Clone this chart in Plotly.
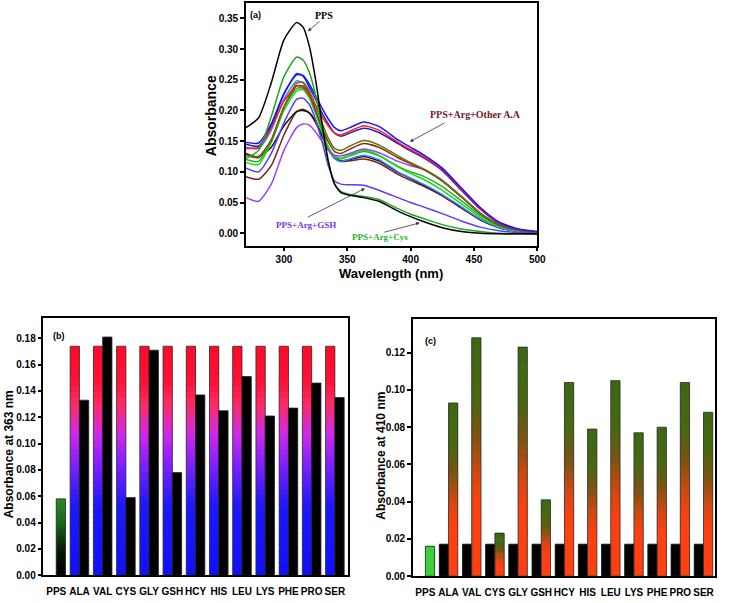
import plotly.graph_objects as go

# ---------------- panel (a): UV-vis spectra ----------------
wl = [270, 280, 290, 300, 310, 315, 320, 325, 330, 335, 340, 345, 352, 363,
      375, 390, 400, 410, 425, 440, 455, 470, 485, 500]

spec_pps = [.172, .188, .245, .315, .343, .336, .305, .250, .180, .118, .080, .066,
            .062, .058, .052, .036, .027, .019, .009, .003, .000, -.001, -.001, -.001]
spec_cys = [.122, .135, .190, .255, .287, .282, .262, .225, .170, .115, .080, .068,
            .063, .060, .055, .040, .031, .024, .014, .007, .003, .000, -.001, -.002]
spec_gsh = [.106, .100, .130, .180, .218, .220, .210, .185, .150, .110, .085, .080,
            .079, .078, .070, .058, .050, .043, .032, .020, .010, .004, .001, .000]
spec_arg = [.138, .140, .172, .215, .240, .238, .225, .208, .190, .175, .163, .160,
            .166, .175, .168, .148, .136, .125, .104, .072, .040, .017, .006, .002]
spec_val = [.148, .147, .178, .228, .258, .257, .243, .224, .204, .186, .172, .167,
            .172, .181, .174, .152, .140, .128, .106, .074, .042, .018, .007, .003]
spec_gly = [.145, .142, .175, .226, .260, .256, .238, .218, .196, .178, .163, .158,
            .163, .171, .164, .146, .134, .123, .102, .070, .039, .016, .006, .002]
spec_leu = [.127, .123, .150, .205, .244, .246, .232, .208, .180, .155, .138, .135,
            .142, .151, .144, .126, .115, .105, .086, .060, .033, .014, .005, .001]
spec_pro = [.128, .125, .152, .206, .240, .240, .226, .200, .172, .149, .133, .130,
            .137, .146, .140, .123, .113, .104, .085, .059, .032, .013, .005, .001]
spec_hcy = [.058, .052, .080, .135, .172, .178, .176, .165, .150, .135, .127, .126,
            .130, .137, .131, .117, .110, .104, .086, .060, .033, .014, .005, .001]
spec_ser = [.115, .112, .148, .200, .232, .234, .220, .195, .165, .140, .126, .122,
            .128, .135, .127, .108, .097, .088, .070, .048, .026, .011, .004, .000]
spec_ala = [.120, .117, .152, .205, .236, .236, .222, .197, .166, .140, .125, .121,
            .126, .133, .126, .109, .100, .093, .076, .053, .029, .012, .004, .000]
spec_phe = [.140, .138, .168, .218, .248, .245, .228, .200, .168, .140, .122, .117,
            .121, .127, .120, .100, .090, .080, .063, .043, .023, .009, .003, .000]
spec_his = [.130, .124, .140, .175, .198, .200, .196, .182, .160, .138, .123, .118,
            .120, .125, .118, .099, .089, .079, .062, .042, .022, .009, .003, .000]
spec_lys = [.092, .088, .110, .160, .198, .202, .196, .180, .158, .137, .122, .117,
            .118, .121, .114, .096, .086, .077, .061, .041, .022, .009, .003, .000]

# (curve, colour) drawing order
spectra = [
    (spec_lys, "#7a1e1e"), (spec_his, "#151515"), (spec_phe, "#3a80ff"),
    (spec_ala, "#28b028"), (spec_ser, "#10e010"), (spec_hcy, "#9a40ff"),
    (spec_pro, "#7a3a12"), (spec_leu, "#6e6e10"), (spec_gly, "#2222cc"),
    (spec_arg, "#ff1a1a"), (spec_val, "#1414ff"), (spec_gsh, "#5a3cff"),
    (spec_cys, "#1fa81f"), (spec_pps, "#000000"),
]

# ---------------- panels (b) and (c): bars ----------------
cats = ["PPS", "ALA", "VAL", "CYS", "GLY", "GSH", "HCY", "HIS", "LEU", "LYS", "PHE", "PRO", "SER"]

b_arg = [None, .174, .174, .174, .174, .174, .174, .174, .174, .174, .174, .174, .174]
b_aa = [.058, .133, .181, .059, .171, .078, .137, .125, .151, .121, .127, .146, .135]

c_arg = [None, .017, .017, .017, .017, .017, .017, .017, .017, .017, .017, .017, .017]
c_aa = [.016, .093, .128, .023, .123, .041, .104, .079, .105, .077, .080, .104, .088]

# gradient definitions (fraction of bar height, colour)
grad_redblue = [(0, "#1010ff"), (0.3, "#1a18ff"), (0.5, "#8a20ff"), (0.62, "#d02ae8"),
                (0.75, "#ff2a60"), (0.85, "#ff1034"), (1, "#ff0a28")]
grad_pps_b = [(0, "#000000"), (0.3, "#051505"), (0.7, "#1a6a1a"), (1, "#2a8a2a")]
grad_black = [(0, "#000000"), (1, "#000000")]
grad_orgreen = [(0, "#ff4010"), (0.3, "#ff4010"), (0.45, "#c84a10"), (0.6, "#7a5410"),
                (0.75, "#4a6612"), (1, "#3a6a12")]
grad_pps_c = [(0, "#3ad03a"), (1, "#3ad03a")]

N_SEG = 40
W, H = 730, 603


def hex2rgb(h):
    h = h.lstrip("#")
    return [int(h[i:i + 2], 16) for i in (0, 2, 4)]


def grad(stops, t):
    for (t0, c0), (t1, c1) in zip(stops[:-1], stops[1:]):
        if t <= t1:
            f = 0 if t1 == t0 else (t - t0) / (t1 - t0)
            a, b = hex2rgb(c0), hex2rgb(c1)
            return "rgb(%d,%d,%d)" % tuple(round(a[i] + (b[i] - a[i]) * f) for i in range(3))
    return stops[-1][1]


def add_bars(fig, values, stops, offset, xa, ya):
    # stack thin slices to fake Origin's vertical gradient fill
    for k in range(N_SEG):
        ys, bases = [], []
        for v in values:
            if v is None:
                ys.append(None)
                bases.append(0)
            else:
                lo = v * k / N_SEG
                hi = v * (k + 1) / N_SEG
                if k < N_SEG - 1:
                    hi += v * 0.4 / N_SEG
                ys.append(hi - lo)
                bases.append(lo)
        cols = [grad(s, (k + 0.5) / N_SEG) for s in stops]
        fig.add_trace(go.Bar(x=cats, y=ys, base=bases, width=0.4, offset=offset,
                             marker=dict(color=cols, line=dict(width=0)),
                             xaxis=xa, yaxis=ya, showlegend=False, hoverinfo="skip"))
    fig.add_trace(go.Bar(x=cats, y=values, width=0.4, offset=offset,
                         marker=dict(color="rgba(0,0,0,0)", line=dict(color="#2a2a2a", width=0.8)),
                         xaxis=xa, yaxis=ya, showlegend=False, hoverinfo="skip"))


fig = go.Figure()

for curve, col in spectra:
    fig.add_trace(go.Scatter(x=wl, y=curve, mode="lines",
                             line=dict(color=col, width=1.5, shape="spline", smoothing=0.6),
                             xaxis="x", yaxis="y", showlegend=False))

add_bars(fig, b_arg, [grad_redblue] * len(cats), -0.4, "x2", "y2")
add_bars(fig, b_aa, [grad_pps_b] + [grad_black] * (len(cats) - 1), 0.0, "x2", "y2")
add_bars(fig, c_arg, [grad_black] * len(cats), -0.4, "x3", "y3")
add_bars(fig, c_aa, [grad_pps_c] + [grad_orgreen] * (len(cats) - 1), 0.0, "x3", "y3")

tickfont = dict(family="Liberation Sans", size=10, color="black", weight="bold")
axis_common = dict(showline=True, linecolor="black", linewidth=1.5, mirror=True,
                   showgrid=False, zeroline=False, tickfont=tickfont,
                   ticks="outside", ticklen=4, tickwidth=1.5, tickcolor="black")
# category axes: no visible ticks, labels pushed a little lower
cat_axis = {**axis_common, "ticklen": 6, "tickcolor": "rgba(0,0,0,0)", "tickangle": 0}


def xd(a, b):
    return [a / W, b / W]


def yd(top, bottom):
    return [1 - bottom / H, 1 - top / H]


fig.update_layout(
    width=W, height=H, margin=dict(l=0, r=0, t=0, b=0),
    paper_bgcolor="white", plot_bgcolor="white", barmode="overlay",
    xaxis=dict(domain=xd(249, 544), range=[270, 500], tickvals=[300, 350, 400, 450, 500],
               anchor="y", **axis_common),
    yaxis=dict(domain=yd(3, 248), range=[-0.02, 0.375], tick0=0, dtick=0.05,
               tickformat=".2f", anchor="x", **axis_common),
    xaxis2=dict(domain=xd(44, 352), type="category", range=[-0.55, 12.55], anchor="y2",
                **cat_axis),
    yaxis2=dict(domain=yd(321, 581), range=[0, 0.1956], tick0=0, dtick=0.02,
                tickformat=".2f", anchor="x2", **axis_common),
    xaxis3=dict(domain=xd(418, 724), type="category", range=[-0.54, 12.5], anchor="y3",
                **cat_axis),
    yaxis3=dict(domain=yd(322, 582), range=[0, 0.1382], tick0=0, dtick=0.02,
                tickformat=".2f", anchor="x3", **axis_common),
)

sans_b = dict(family="Liberation Sans", color="black", weight="bold")


def paper_text(px, py, text, size, angle=0):
    fig.add_annotation(x=px / W, y=1 - py / H, xref="paper", yref="paper", text=text,
                       xanchor="center", yanchor="middle", showarrow=False,
                       textangle=angle, font=dict(size=size, **sans_b))


paper_text(213, 117, "Absorbance", 14, -90)
paper_text(396, 276, "Wavelength (nm)", 13)
paper_text(10, 459, "Absorbance at 363 nm", 12, -90)
paper_text(386, 460, "Absorbance at 410 nm", 12, -90)
paper_text(259, 15, "(a)", 9)
paper_text(60, 339, "(b)", 9)
paper_text(436, 344, "(c)", 9)

# spectrum labels with arrows (data coordinates)
labels = [
    ("PPS", "#000000", 10, 331.5, 0.354, (318.9, 0.329), (329.3, 0.347)),
    ("PPS+Arg+Other A.A", "#6e1a2a", 10, 451.5, 0.193, (399.4, 0.149), (428.0, 0.181)),
    ("PPS+Arg+GSH", "#7a3ae0", 9, 317.6, 0.014, (364.0, 0.073), (317.6, 0.025)),
    ("PPS+Arg+Cys", "#22bb22", 9, 375.6, -0.0055, (407.2, 0.017), (378.0, 0.001)),
]
for text, col, size, tx, ty, head, tail in labels:
    fig.add_annotation(x=tx, y=ty, xref="x", yref="y", text=text, showarrow=False,
                       xanchor="center", yanchor="middle",
                       font=dict(family="Liberation Serif", size=size, color=col, weight="bold"))
    fig.add_annotation(x=head[0], y=head[1], ax=tail[0], ay=tail[1], xref="x", yref="y",
                       axref="x", ayref="y", text="", showarrow=True, arrowhead=2,
                       arrowsize=0.9, arrowwidth=0.8, arrowcolor="#333333")

# the browser's default 8px body margin would shift the whole figure
fig.write_html("out.html", config={"displayModeBar": False},
               post_script="document.body.style.margin='0px';")
